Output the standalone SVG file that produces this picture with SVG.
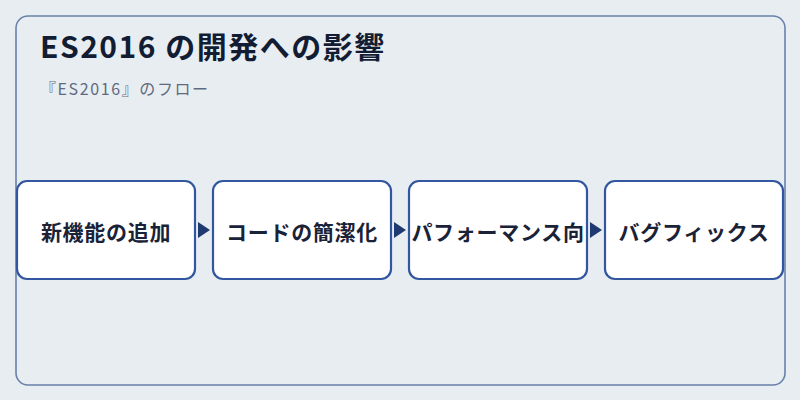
<svg xmlns="http://www.w3.org/2000/svg" width="800" height="400" viewBox="0 0 800 400">
<defs>
<style>
.bg{fill:#e8edf2}
.frame{fill:#e8edf2;stroke:#6880ab;stroke-width:1.6}
.node rect{fill:#ffffff;stroke:#3356a0;stroke-width:2.2}
.node text{font-family:"Noto Sans CJK JP","Noto Sans",sans-serif;font-weight:700;font-size:21px;fill:#1a2238;text-anchor:middle;dominant-baseline:central;letter-spacing:0.7px}
.title{font-family:"Noto Sans CJK JP","Noto Sans",sans-serif;font-weight:700;font-size:30px;fill:#121d33;letter-spacing:1.5px}
.sub{font-family:"Noto Sans CJK JP","Noto Sans",sans-serif;font-size:16px;fill:#5f6a7e;letter-spacing:1.6px}
.conn{stroke:#1f3a70;stroke-width:2;fill:none}
</style>
<marker id="arrow" viewBox="0 0 12 16" refX="12" refY="8" markerWidth="12" markerHeight="16" markerUnits="userSpaceOnUse" orient="auto">
<path d="M0,0 L12,8 L0,16 Z" fill="#1f3a70"/>
</marker>
</defs>
<rect class="bg" x="0" y="0" width="800" height="400"/>
<rect class="frame" x="16" y="16" width="769" height="369" rx="12" ry="12"/>
<text class="title" x="40" y="58">ES2016 の開発への影響</text>
<text class="sub" x="40" y="95">『ES2016』のフロー</text>
<g id="connectors">
<line class="conn" x1="197" y1="230" x2="210" y2="230" stroke-opacity="0" marker-end="url(#arrow)"/>
<line class="conn" x1="393" y1="230" x2="406" y2="230" stroke-opacity="0" marker-end="url(#arrow)"/>
<line class="conn" x1="589" y1="230" x2="602" y2="230" stroke-opacity="0" marker-end="url(#arrow)"/>
</g>
<g id="node1" class="node"><rect x="17" y="181" width="178" height="98" rx="10"/><text x="106" y="231">新機能の追加</text></g>
<g id="node2" class="node"><rect x="213" y="181" width="178" height="98" rx="10"/><text x="302" y="231">コードの簡潔化</text></g>
<g id="node3" class="node"><rect x="409" y="181" width="178" height="98" rx="10"/><text x="498" y="231">パフォーマンス向</text></g>
<g id="node4" class="node"><rect x="605" y="181" width="178" height="98" rx="10"/><text x="694" y="231">バグフィックス</text></g>
</svg>
